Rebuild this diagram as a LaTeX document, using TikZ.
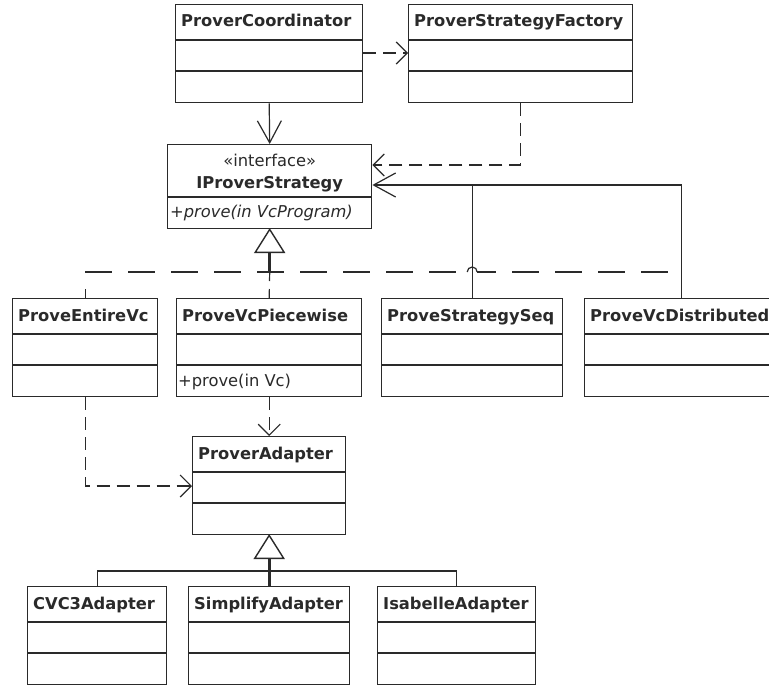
\documentclass[tikz,border=0pt]{standalone}
\usepackage{fontspec}
\setmainfont{DejaVu Sans}
\usetikzlibrary{arrows.meta}
\definecolor{ink}{HTML}{2A2A2A}

% class box: name, left, top, width, title
\newcommand\classbox[5]{%
  \node[classframe, minimum width=#4pt] (#1) at (#2,#3) {};
  \draw[divider] ([shift={(0,36)}]#1.north west) -- ([shift={(0,36)}]#1.north east);
  \draw[divider] ([shift={(0,67)}]#1.north west) -- ([shift={(0,67)}]#1.north east);
  \node[title] (#1-t) at ([shift={(6,23)}]#1.north west) {#5};
}

\begin{document}
\begin{tikzpicture}[x=1pt,y=-1pt,
  classframe/.style={draw=ink, line width=1.4pt, fill=white, rectangle,
    inner sep=0pt, minimum height=98pt, anchor=north west},
  divider/.style={draw=ink, line width=1.4pt},
  title/.style={anchor=base west, inner sep=0pt,
    font=\fontsize{16.3}{19}\selectfont\bfseries, text=ink},
  optext/.style={anchor=base west, inner sep=0pt,
    font=\fontsize{16.3}{19}\selectfont, text=ink},
  link/.style={draw=ink, line width=1.2pt},
  dep/.style={link, dash pattern=on 13pt off 7pt},
  realize/.style={link, dash pattern=on 27pt off 16pt},
  assoc/.style={-{Straight Barb[length=22pt,width=24pt,line width=1.2pt]}},
  depend/.style={-{Straight Barb[length=11pt,width=22pt,line width=1.2pt]}},
  gentri/.style={draw=ink, line width=1.4pt, fill=white, line join=miter},
  stem/.style={draw=ink, line width=2.8pt},
]
\fill[white] (0,0) rectangle (769,688);
\useasboundingbox (0,0) rectangle (769,688);
\clip (0,0) rectangle (769,688);

% helper rows for the connector routes
\coordinate (y53) at (0,53);
\coordinate (y165) at (0,165);
\coordinate (y185) at (0,185);
\coordinate (y272) at (0,272);
\coordinate (y486) at (0,486);
\coordinate (y571) at (0,571);

% top row
\classbox{pc}{175}{4}{187}{ProverCoordinator}
\classbox{psf}{408}{4}{224}{ProverStrategyFactory}

% strategy interface
\node[classframe, minimum width=204pt, minimum height=84pt] (ips) at (167,144) {};
\draw[divider] ([shift={(0,53)}]ips.north west) -- ([shift={(0,53)}]ips.north east);
\node[optext, anchor=base] (ips-s) at ([shift={(0,22)}]ips.north) {«interface»};
\node[title, anchor=base] (ips-t) at ([shift={(0,44)}]ips.north) {IProverStrategy};
\node[optext] (ips-o) at ([shift={(3,73)}]ips.north west) {+\textit{prove(in VcProgram)}};

% strategies
\classbox{pe}{12}{298}{145}{ProveEntireVc}
\classbox{pp}{176}{298}{185}{ProveVcPiecewise}
\node[optext] (pp-o) at ([shift={(2,88)}]pp.north west) {+prove(in Vc)};
\classbox{pss}{381}{298}{181}{ProveStrategySeq}
\classbox{pvd}{584}{298}{194}{ProveVcDistributed}

% adapters
\classbox{pa}{192}{436}{153}{ProverAdapter}
\classbox{cvc}{27}{586}{139}{CVC3Adapter}
\classbox{simp}{188}{586}{161}{SimplifyAdapter}
\classbox{isa}{377}{586}{158}{IsabelleAdapter}

% associations and dependencies around the interface
\draw[dep, depend] (pc.east |- y53) -- (psf.west |- y53);
\draw[link, assoc] (pc.south) -- (ips.north);
\draw[dep, depend] (psf.south) |- (ips.east |- y165);
\draw[link, assoc] (pss.north) |- (ips.east |- y185);
\draw[link] (pvd.north) |- (pss.north |- y185);

% realization of the strategy interface
\coordinate (genbar) at (ips.south |- y272);
\coordinate (realstart) at (pe.north |- y272);
\coordinate (hopl) at ([xshift=-5pt]pss.north |- y272);
\coordinate (hopr) at ([xshift=5pt]pss.north |- y272);
\coordinate (realend) at (670,272);
\draw[stem] ([shift={(0,23)}]ips.south) -- (genbar);
\draw[gentri] (ips.south) -- ++(-14.5,23) -- ++(29,0) -- cycle;
\draw[realize] (realstart) -- (hopl);
\draw[link] (hopl) arc[start angle=180, end angle=0, radius=5pt];
\draw[realize, dash phase=8pt] (hopr) -- (realend);
\draw[link, dash pattern=on 9pt off 30pt] (pe.north) -- (realstart);
\draw[link, dash pattern=on 9pt off 8pt] (genbar) -- (pp.north);

% use of the prover adapter
\draw[dep, depend] (pe.south) |- (pa.west |- y486);
\draw[dep, depend] (pp.south) -- (pa.north);

% adapter generalization
\draw[stem] ([shift={(0,23)}]pa.south) -- (simp.north);
\draw[gentri] (pa.south) -- ++(-14.5,23) -- ++(29,0) -- cycle;
\draw[link] (cvc.north) |- (isa.north |- y571) -- (isa.north);
\end{tikzpicture}
\end{document}
